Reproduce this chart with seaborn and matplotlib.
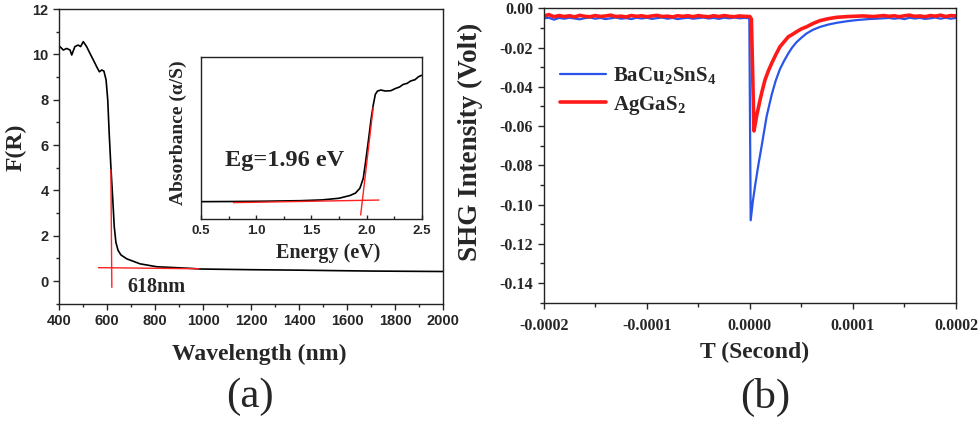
import numpy as np
import pandas as pd
import matplotlib
matplotlib.use("Agg")
import matplotlib.pyplot as plt
import seaborn as sns
from matplotlib.ticker import MultipleLocator, FormatStrFormatter

# ---------------- data: panel (a) main ----------------
wl_nm = [404, 418, 432, 446, 453, 466, 480, 490, 501, 515, 529, 543, 557, 568, 578, 587,
         596, 603, 609, 616, 624, 630, 637, 646, 658, 682, 737, 807, 945, 987, 1200, 1400,
         1541, 1700, 1850, 2000]
f_r = [10.34, 10.19, 10.26, 10.19, 9.97, 10.34, 10.41, 10.34, 10.56, 10.34, 10.04, 9.75,
       9.45, 9.23, 9.31, 9.26, 8.87, 7.98, 6.51, 5.04, 3.57, 2.40, 1.70, 1.35, 1.15, 0.98,
       0.76, 0.63, 0.56, 0.53, 0.50, 0.48, 0.46, 0.44, 0.43, 0.42]
tan_v_x = [616, 620]
tan_v_y = [4.9, -0.28]
tan_h_x = [564, 983]
tan_h_y = [0.59, 0.54]

# ---------------- data: inset ----------------
en_ev = [0.5, 0.8, 1.1, 1.4, 1.6, 1.75, 1.85, 1.90, 1.94, 1.97, 1.99, 2.02, 2.04, 2.06,
         2.08, 2.10, 2.13, 2.17, 2.22, 2.26, 2.30, 2.33, 2.37, 2.40, 2.44, 2.47, 2.5]
absorb = [0.107, 0.108, 0.110, 0.113, 0.118, 0.128, 0.145, 0.160, 0.190, 0.250, 0.345,
          0.500, 0.610, 0.700, 0.770, 0.790, 0.796, 0.790, 0.792, 0.805, 0.815, 0.830,
          0.838, 0.852, 0.860, 0.878, 0.887]
in_h_x = [0.793, 2.113]
in_h_y = [0.101, 0.117]
in_v_x = [1.947, 2.061]
in_v_y = [0.025, 0.690]

# ---------------- data: panel (b) ----------------
blue_t_us = [-200, -195, -190, -185, -180, -175, -170, -165, -160, -155, -150, -145, -140,
             -135, -130, -125, -120, -115, -110, -105, -100, -95, -90, -85, -80, -75, -70,
             -65, -60, -55, -50, -45, -40, -35, -30, -25, -20, -15, -10, -5, -1,
             -0.5, 0.8, 3.0, 5.5, 8.2, 11.5, 16.3, 21.2, 25, 29.2, 33, 37.3, 41, 45.4, 50,
             55.1, 61, 68, 76, 84.2, 94, 103.6, 115, 126.3, 135, 140, 145, 150, 155, 160,
             165, 170, 175, 180, 185, 190, 195, 200]
blue_v = [-0.0051, -0.0048, -0.0058, -0.0049, -0.0053, -0.0048, -0.0052, -0.0056, -0.0050,
          -0.0047, -0.0053, -0.0049, -0.0055, -0.0051, -0.0047, -0.0053, -0.0050, -0.0055,
          -0.0048, -0.0052, -0.0048, -0.0054, -0.0050, -0.0047, -0.0053, -0.0049, -0.0055,
          -0.0051, -0.0048, -0.0053, -0.0050, -0.0047, -0.0052, -0.0049, -0.0054, -0.0048,
          -0.0051, -0.0047, -0.0051, -0.0049, -0.0050,
          -0.0055, -0.1080, -0.0980, -0.0890, -0.0800, -0.0700, -0.0550, -0.0440, -0.0370,
          -0.0310, -0.0270, -0.0230, -0.0200, -0.0172, -0.0150, -0.0128, -0.0110, -0.0095,
          -0.0083, -0.0074, -0.0066, -0.0060, -0.0055, -0.0052, -0.0049, -0.0053, -0.0050,
          -0.0055, -0.0048, -0.0052, -0.0049, -0.0054, -0.0051, -0.0047, -0.0053, -0.0048,
          -0.0053, -0.0049]
red_t_us = [-200, -195, -190, -185, -180, -175, -170, -165, -160, -155, -150, -145, -140,
            -135, -130, -125, -120, -115, -110, -105, -100, -95, -90, -85, -80, -75, -70,
            -65, -60, -55, -50, -45, -40, -35, -30, -25, -20, -15, -10, -5, 0,
            1.5, 4.0, 6.5, 9.9, 12, 14.7, 18, 21.2, 25, 29.2, 33, 37.3, 41, 45.4, 50, 55.1,
            61, 68, 76, 84.2, 95, 109.8, 120, 130, 135, 140, 145, 150, 155, 160, 165, 170,
            175, 180, 185, 190, 195, 200]
red_v = [-0.0040, -0.0032, -0.0043, -0.0037, -0.0042, -0.0038, -0.0044, -0.0036, -0.0041,
         -0.0043, -0.0037, -0.0042, -0.0039, -0.0035, -0.0042, -0.0040, -0.0044, -0.0037,
         -0.0041, -0.0038, -0.0043, -0.0039, -0.0036, -0.0042, -0.0040, -0.0044, -0.0038,
         -0.0041, -0.0038, -0.0043, -0.0037, -0.0041, -0.0043, -0.0038, -0.0042, -0.0037,
         -0.0041, -0.0043, -0.0039, -0.0041, -0.0042,
         -0.0055, -0.0625, -0.0550, -0.0467, -0.0420, -0.0365, -0.0318, -0.0280, -0.0238,
         -0.0196, -0.0172, -0.0145, -0.0134, -0.0119, -0.0105, -0.0094, -0.0078, -0.0063,
         -0.0053, -0.0046, -0.0042, -0.0039, -0.0042, -0.0037, -0.0041, -0.0038, -0.0043,
         -0.0038, -0.0035, -0.0041, -0.0039, -0.0043, -0.0037, -0.0040, -0.0035, -0.0042,
         -0.0037, -0.0039]

labels_b = [r"BaCu$_\mathbf{2}$SnS$_\mathbf{4}$", r"AgGaS$_\mathbf{2}$"]

# ---------------- style ----------------
sns.set_theme(style="ticks")
plt.rcParams["font.family"] = ["Liberation Serif", "DejaVu Serif"]
plt.rcParams["font.weight"] = "bold"
plt.rcParams["mathtext.fontset"] = "custom"
plt.rcParams["mathtext.rm"] = "Liberation Serif:bold"
plt.rcParams["mathtext.bf"] = "Liberation Serif:bold"
plt.rcParams["axes.linewidth"] = 1.0
plt.rcParams["axes.edgecolor"] = "#222222"

SANS = "Liberation Sans"
SERIF = "Liberation Serif"

fig = plt.figure(figsize=(9.8, 4.21), dpi=100)
W, H = 980, 421


def ax_rect(l, t, r, b):
    return [l / W, 1 - b / H, (r - l) / W, (b - t) / H]


# ---------------- panel (a) ----------------
axa = fig.add_axes(ax_rect(59, 9, 443.3, 303.7))
df_a = pd.DataFrame({"wl": wl_nm, "F": f_r})
sns.lineplot(data=df_a, x="wl", y="F", ax=axa, color="black", lw=1.2,
             estimator=None, sort=False)
sns.lineplot(x=tan_v_x, y=tan_v_y, ax=axa, color="#ff2020", lw=1.0, estimator=None)
sns.lineplot(x=tan_h_x, y=tan_h_y, ax=axa, color="#ff2020", lw=1.0, estimator=None)
axa.set_xlim(400, 2000)
axa.set_ylim(-1, 12)
axa.xaxis.set_major_locator(MultipleLocator(200))
axa.xaxis.set_minor_locator(MultipleLocator(100))
axa.yaxis.set_major_locator(MultipleLocator(2))
axa.yaxis.set_minor_locator(MultipleLocator(1))
axa.tick_params(axis="both", which="major", direction="out", length=4, width=1,
                pad=3.5, labelsize=10.5, labelfontfamily=SANS)
axa.tick_params(axis="both", which="minor", direction="out", length=2.5, width=1)
axa.set_xlabel("Wavelength (nm)", fontsize=17, fontweight="bold", family=SERIF)
axa.xaxis.set_label_coords(0.520, -0.135)
axa.xaxis.label.set_va("top")
axa.set_ylabel("F(R)", fontsize=17, fontweight="bold", family=SERIF)
axa.yaxis.set_label_coords(-0.083, 0.532)
axa.text(683, -0.26, "618nm", fontsize=14.5, fontweight="bold", family=SERIF,
         ha="left", va="center")
for s in axa.spines.values():
    s.set_visible(True)

# ---------------- inset ----------------
axi = fig.add_axes(ax_rect(201, 57, 421.7, 219))
sns.lineplot(x=en_ev, y=absorb, ax=axi, color="black", lw=1.2, estimator=None, sort=False)
sns.lineplot(x=in_h_x, y=in_h_y, ax=axi, color="#ff2020", lw=1.0, estimator=None)
sns.lineplot(x=in_v_x, y=in_v_y, ax=axi, color="#ff2020", lw=1.0, estimator=None)
axi.set_xlim(0.5, 2.5)
axi.set_ylim(0, 1)
axi.xaxis.set_major_locator(MultipleLocator(0.5))
axi.xaxis.set_minor_locator(MultipleLocator(0.25))
axi.xaxis.set_major_formatter(FormatStrFormatter("%.1f"))
axi.set_yticks([])
axi.tick_params(axis="x", which="major", direction="in", length=3, width=1, pad=4,
                labelsize=9.5, labelfontfamily=SANS)
axi.tick_params(axis="x", which="minor", direction="in", length=2, width=1)
axi.set_xlabel("Energy (eV)", fontsize=14.5, fontweight="bold", family=SERIF)
axi.xaxis.set_label_coords(0.575, -0.15)
axi.xaxis.label.set_va("top")
axi.set_ylabel("Absorbance (α/S)", fontsize=14, fontweight="bold", family=SERIF)
axi.yaxis.set_label_coords(-0.063, 0.534)
axi.text(0.717, 0.364, "Eg=1.96 eV", fontsize=17.5, fontweight="bold", family=SERIF,
         ha="left", va="center")

# ---------------- panel (b) ----------------
axb = fig.add_axes(ax_rect(543.7, 8.3, 956, 302.7))
blue_t = np.array(blue_t_us) * 1e-6
red_t = np.array(red_t_us) * 1e-6
sns.lineplot(x=blue_t, y=blue_v, ax=axb, color="#2a55e8", lw=1.6, estimator=None,
             sort=False, label=labels_b[0])
sns.lineplot(x=red_t, y=red_v, ax=axb, color="#ff1a1a", lw=2.6, estimator=None,
             sort=False, label=labels_b[1])
axb.set_xlim(-0.0002, 0.0002)
axb.set_ylim(-0.15, 0.0)
axb.xaxis.set_major_locator(MultipleLocator(0.0001))
axb.xaxis.set_minor_locator(MultipleLocator(0.00005))
axb.xaxis.set_major_formatter(FormatStrFormatter("%.4f"))
axb.yaxis.set_major_locator(MultipleLocator(0.02))
axb.yaxis.set_minor_locator(MultipleLocator(0.01))
axb.yaxis.set_major_formatter(FormatStrFormatter("%.2f"))
axb.tick_params(axis="both", which="major", direction="out", length=4, width=1,
                labelsize=11.5, labelfontfamily=SERIF)
axb.tick_params(axis="x", which="major", pad=7)
axb.tick_params(axis="y", which="major", pad=3.5)
axb.tick_params(axis="both", which="minor", direction="out", length=3, width=1)
axb.set_xlabel("T (Second)", fontsize=17, fontweight="bold", family=SERIF)
axb.xaxis.set_label_coords(0.5125, -0.134)
axb.xaxis.label.set_va("top")
axb.set_ylabel("SHG Intensity (Volt)", fontsize=19.5, fontweight="bold", family=SERIF)
axb.yaxis.set_label_coords(-0.147, 0.546)
leg = axb.legend(loc="upper left", bbox_to_anchor=(0.04, 0.805), frameon=False,
                 prop={"family": SERIF, "weight": "bold", "size": 15},
                 handlelength=2.2, handletextpad=0.35, labelspacing=0.3,
                 borderpad=0, borderaxespad=0)
for s in axb.spines.values():
    s.set_visible(True)

fig.text(250 / W, 1 - 397 / H, "(a)", fontsize=31, family=SERIF, fontweight="normal",
         ha="center", va="center")
fig.text(765 / W, 1 - 397 / H, "(b)", fontsize=31, family=SERIF, fontweight="normal",
         ha="center", va="center")

fig.savefig("out.png", dpi=100)
